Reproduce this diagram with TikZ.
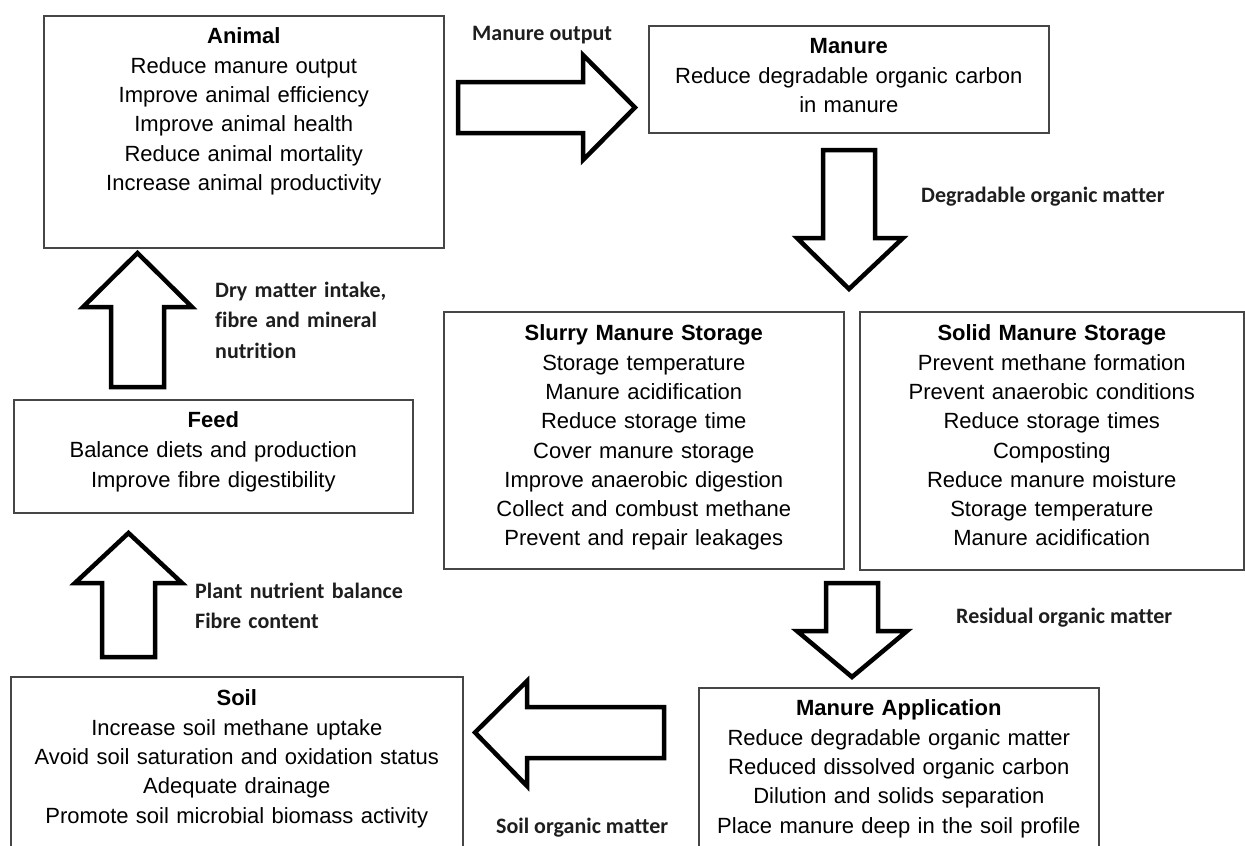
\documentclass[tikz,border=0pt]{standalone}
\usepackage{fontspec}
\setmainfont{Liberation Sans}
\newfontfamily\labfont[Ligatures=NoCommon]{Carlito}
\definecolor{boxline}{RGB}{70,70,70}
\definecolor{labcol}{RGB}{30,30,30}
\begin{document}
\begin{tikzpicture}[x=1pt,y=-1pt,
  box/.style={draw=boxline, line width=1.6pt, inner xsep=0pt, inner ysep=0pt,
    anchor=north west, align=center, font=\fontsize{22}{29.3}\selectfont},
  lab/.style={inner sep=0pt, anchor=base west, align=left,
    font=\labfont\bfseries\fontsize{22}{30.5}\selectfont, text=labcol},
  blk/.style={draw=black, line width=4.5pt, fill=white, line join=miter, miter limit=10}]
\useasboundingbox (0,0) rectangle (1245,846);
\fill[white] (0,0) rectangle (1245,846);
\clip (0,0) rectangle (1245,846);

% boxes
\node[box, text width=400pt, text height=28pt, text depth=204pt] (animal) at (43,15)
  {\textbf{Animal}\\Reduce manure output\\Improve animal efficiency\\Improve animal health\\Reduce animal mortality\\Increase animal productivity};
\node[box, text width=400pt, text height=28pt, text depth=79pt] (manure) at (648,25)
  {\textbf{Manure}\\Reduce degradable organic carbon\\in manure};
\node[box, text width=400pt, text height=29pt, text depth=228pt] (slurry) at (443,311)
  {\textbf{Slurry Manure Storage}\\Storage temperature\\Manure acidification\\Reduce storage time\\Cover manure storage\\Improve anaerobic digestion\\Collect and combust methane\\Prevent and repair leakages};
\node[box, text width=384pt, text height=29pt, text depth=229pt] (solid) at (859,311)
  {\textbf{Solid Manure Storage}\\Prevent methane formation\\Prevent anaerobic conditions\\Reduce storage times\\Composting\\Reduce manure moisture\\Storage temperature\\Manure acidification};
\node[box, text width=399pt, text height=28pt, text depth=85pt, font=\fontsize{22}{30}\selectfont] (feed) at (13,399)
  {\textbf{Feed}\\Balance diets and production\\Improve fibre digestibility};
\node[box, text width=452pt, text height=29pt, text depth=165pt] (soil) at (10,676)
  {\textbf{Soil}\\Increase soil methane uptake\\Avoid soil saturation and oxidation status\\Adequate drainage\\Promote soil microbial biomass activity};
\node[box, text width=400pt, text height=28pt, text depth=155pt] (appl) at (698,687)
  {\textbf{Manure Application}\\Reduce degradable organic matter\\Reduced dissolved organic carbon\\Dilution and solids separation\\Place manure deep in the soil profile};

% block arrows
\draw[blk] (458,82) -- (583,82) -- (583,55) -- (635,107.5) -- (583,160) -- (583,133) -- (458,133) -- cycle;
\draw[blk] (823,150) -- (875,150) -- (875,238) -- (903,238) -- (849,289) -- (797,238) -- (823,238) -- cycle;
\draw[blk] (826,583) -- (878,583) -- (878,631) -- (907,631) -- (852,677) -- (797,631) -- (826,631) -- cycle;
\draw[blk] (664,707) -- (527,707) -- (527,681) -- (475,732.5) -- (527,786) -- (527,758) -- (664,758) -- cycle;
\draw[blk] (102,657) -- (102,583) -- (75,583) -- (128.5,533) -- (182,583) -- (155,583) -- (155,657) -- cycle;
\draw[blk] (111,387) -- (111,307) -- (83,307) -- (137.5,253) -- (192,307) -- (164,307) -- (164,387) -- cycle;

% labels
\node[lab] (l1) at (472,40) {Manure output};
\node[lab] (l2) at (921,202) {Degradable organic matter};
\node[lab, text width=250pt] (l3) at (215,297) {Dry matter intake,\\fibre and mineral\\nutrition};
\node[lab, text width=250pt] (l4) at (195,598) {Plant nutrient balance\\Fibre content};
\node[lab] (l5) at (956,623) {Residual organic matter};
\node[lab] (l6) at (496,833) {Soil organic matter};
\end{tikzpicture}
\end{document}
